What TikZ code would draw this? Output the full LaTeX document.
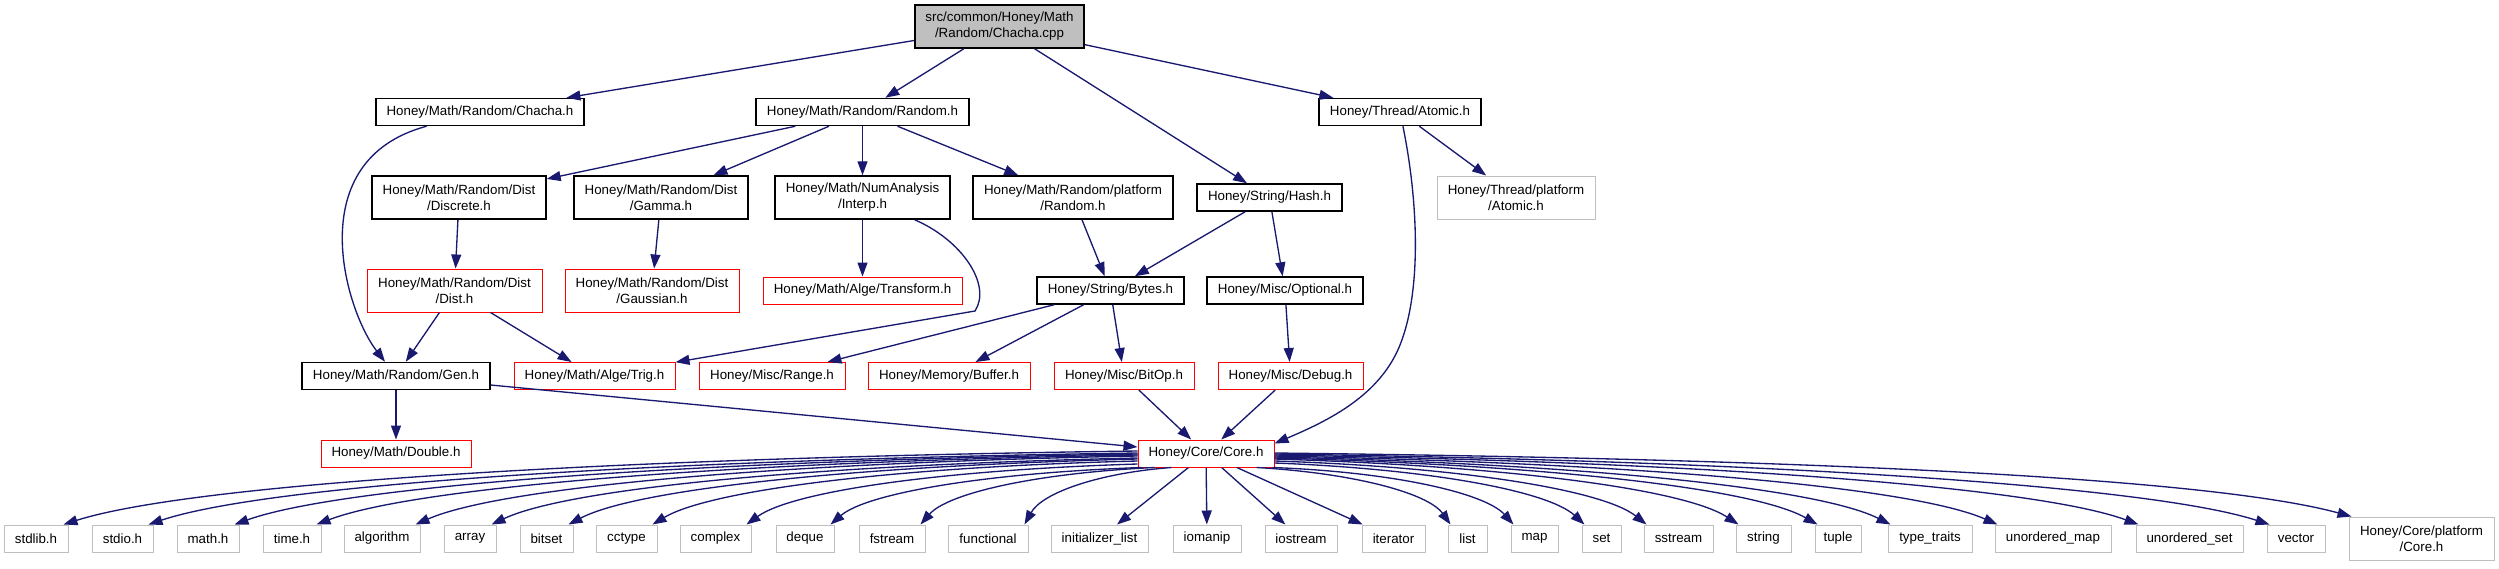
\documentclass[tikz,border=0pt]{standalone}
\usepackage{fontspec}
\setmainfont{Liberation Sans}
\usetikzlibrary{arrows.meta}
\definecolor{edgecol}{HTML}{191970}
\definecolor{redb}{HTML}{FF0000}
\definecolor{grayb}{HTML}{BFBFBF}
\definecolor{rootfill}{HTML}{BFBFBF}
\begin{document}
\begin{tikzpicture}[x=0.75pt,y=-0.75pt,
  box/.style={draw, line width=0.75pt, inner sep=0pt, align=center,
    font=\fontsize{10}{12}\selectfont, minimum height=27*0.75pt},
  tall/.style={minimum height=43*0.75pt},
  w/.style={minimum width=#1*0.75pt},
  blk/.style={box, draw=black, line width=1.1pt},
  redbox/.style={box, draw=redb},
  graybox/.style={box, draw=grayb},
  edge/.style={draw=edgecol, line width=1pt, -{Triangle[length=10.5pt,width=7.5pt]}}
]
\useasboundingbox (0,0) rectangle (2499,568);

% row 1
\node[blk,tall,w=169,fill=rootfill] (root) at (999.5,26.5) {src/common/Honey/Math\\/Random/Chacha.cpp};
% row 2
\node[blk,w=208] (chachaH) at (480,112) {Honey/Math/Random/Chacha.h};
\node[blk,w=213] (randomH) at (862.5,112) {Honey/Math/Random/Random.h};
\node[blk,w=162] (atomicH) at (1400,112) {Honey/Thread/Atomic.h};
% row 3
\node[blk,tall,w=174] (discrete) at (459,197.5) {Honey/Math/Random/Dist\\/Discrete.h};
\node[blk,tall,w=174] (gamma) at (661,197.5) {Honey/Math/Random/Dist\\/Gamma.h};
\node[blk,tall,w=175] (interp) at (862.5,197.5) {Honey/Math/NumAnalysis\\/Interp.h};
\node[blk,tall,w=200] (platRandom) at (1073,197.5) {Honey/Math/Random/platform\\/Random.h};
\node[blk,w=145] (hash) at (1269.5,197.5) {Honey/String/Hash.h};
\node[graybox,tall,w=158] (thrPlat) at (1516,197.5) {Honey/Thread/platform\\/Atomic.h};
% row 4
\node[redbox,tall,w=175] (dist) at (454.5,290.5) {Honey/Math/Random/Dist\\/Dist.h};
\node[redbox,tall,w=174] (gaussian) at (652,290.5) {Honey/Math/Random/Dist\\/Gaussian.h};
\node[redbox,w=199] (transform) at (862.5,290.5) {Honey/Math/Alge/Transform.h};
\node[blk,w=147] (bytes) at (1110.5,290.5) {Honey/String/Bytes.h};
\node[blk,w=156] (optional) at (1285,290.5) {Honey/Misc/Optional.h};
% row 5
\node[blk,w=188] (gen) at (396,376) {Honey/Math/Random/Gen.h};
\node[redbox,w=161] (trig) at (594.5,376) {Honey/Math/Alge/Trig.h};
\node[redbox,w=146] (range) at (772,376) {Honey/Misc/Range.h};
\node[redbox,w=162] (buffer) at (949,376) {Honey/Memory/Buffer.h};
\node[redbox,w=140] (bitop) at (1124,376) {Honey/Misc/BitOp.h};
\node[redbox,w=145] (debug) at (1290.5,376) {Honey/Misc/Debug.h};
% row 6
\node[redbox,w=150] (double) at (396,453.5) {Honey/Math/Double.h};
\node[redbox,w=136] (core) at (1206,453.5) {Honey/Core/Core.h};
% row 7
\node[graybox,w=64] (stdlib) at (36,538.5) {stdlib.h};
\node[graybox,w=61] (stdio) at (122.5,538.5) {stdio.h};
\node[graybox,w=62] (math) at (208,538.5) {math.h};
\node[graybox,w=58] (time) at (292,538.5) {time.h};
\node[graybox,w=76] (algorithm) at (382,538.5) {algorithm};
\node[graybox,w=52] (array) at (470,538.5) {array};
\node[graybox,w=53] (bitset) at (546.5,538.5) {bitset};
\node[graybox,w=61] (cctype) at (626.5,538.5) {cctype};
\node[graybox,w=71] (complex) at (715.5,538.5) {complex};
\node[graybox,w=58] (deque) at (805,538.5) {deque};
\node[graybox,w=66] (fstream) at (892,538.5) {fstream};
\node[graybox,w=80] (functional) at (988,538.5) {functional};
\node[graybox,w=97] (initlist) at (1099.5,538.5) {initializer\_list};
\node[graybox,w=68] (iomanip) at (1207,538.5) {iomanip};
\node[graybox,w=72] (iostream) at (1301,538.5) {iostream};
\node[graybox,w=63] (iterator) at (1393.5,538.5) {iterator};
\node[graybox,w=39] (list) at (1467.5,538.5) {list};
\node[graybox,w=47] (map) at (1534.5,538.5) {map};
\node[graybox,w=39] (set) at (1601.5,538.5) {set};
\node[graybox,w=69] (sstream) at (1678.5,538.5) {sstream};
\node[graybox,w=55] (string) at (1763.5,538.5) {string};
\node[graybox,w=46] (tuple) at (1838,538.5) {tuple};
\node[graybox,w=84] (typetraits) at (1930,538.5) {type\_traits};
\node[graybox,w=116] (umap) at (2053,538.5) {unordered\_map};
\node[graybox,w=107] (uset) at (2189.5,538.5) {unordered\_set};
\node[graybox,w=58] (vector) at (2296,538.5) {vector};
\node[graybox,tall,w=145] (corePlat) at (2421.5,538.5) {Honey/Core/platform\\/Core.h};

% edges upper part
\draw[edge] (root) -- (chachaH);
\draw[edge] (root) -- (randomH);
\draw[edge] (root) -- (hash);
\draw[edge] (root) -- (atomicH);
\draw[edge] (chachaH) .. controls (300,160) and (345,310) .. (gen);
\draw[edge] (randomH) -- (discrete);
\draw[edge] (randomH) -- (gamma);
\draw[edge] (randomH) -- (interp);
\draw[edge] (randomH) -- (platRandom);
\draw[edge] (atomicH) -- (thrPlat);
\draw[edge] (atomicH) .. controls (1418,200) and (1422,290) .. (1400,345)
   .. controls (1380,395) and (1330,420) .. ([shift={(0,4)}]core.north east);
\draw[edge] (discrete) -- (dist);
\draw[edge] (gamma) -- (gaussian);
\draw[edge] (interp) -- (transform);
\draw[edge] (interp) .. controls (962,240) and (992,285) .. (975,311) -- (trig);
\draw[edge] (platRandom) -- (bytes);
\draw[edge] (hash) -- (bytes);
\draw[edge] (hash) -- (optional);
\draw[edge] (dist) -- (gen);
\draw[edge] (dist) -- (trig);
\draw[edge] (bytes) -- (range);
\draw[edge] (bytes) -- (buffer);
\draw[edge] (bytes) -- (bitop);
\draw[edge] (optional) -- (debug);
\draw[edge] (gen) -- (double);
\draw[edge] (gen) -- (core);
\draw[edge] (bitop) -- (core);
\draw[edge] (debug) -- (core);

% core -> leaves (left)
\draw[edge] ([shift={(0,-2.5)}]core.west) .. controls (600,458) and (191,484) .. ([shift={(-5,0)}]stdlib.north east);
\draw[edge] ([shift={(0,-0.5)}]core.west) .. controls (643,460) and (267,485) .. ([shift={(-5,0)}]stdio.north east);
\draw[edge] ([shift={(0,0.5)}]core.west) .. controls (686,461) and (342,486) .. ([shift={(-5,0)}]math.north east);
\draw[edge] ([shift={(0,1.5)}]core.west) .. controls (727,462) and (415,487) .. ([shift={(-5,0)}]time.north east);
\draw[edge] ([shift={(0,2.5)}]core.west) .. controls (776,463) and (501,487) .. ([shift={(-5,0)}]algorithm.north east);
\draw[edge] ([shift={(0,4.5)}]core.west) .. controls (815,465) and (569,488) .. ([shift={(-5,0)}]array.north east);
\draw[edge] ([shift={(0,5.5)}]core.west) .. controls (853,466) and (636,489) .. ([shift={(-5,0)}]bitset.north east);
\draw[edge] ([shift={(0,7.5)}]core.west) .. controls (895,467) and (710,490) .. ([shift={(-5,0)}]cctype.north east);
\draw[edge] ([shift={(0,10.5)}]core.west) .. controls (942,470) and (793,491) .. ([shift={(-5,0)}]complex.north east);
\draw[edge] ([shift={(4,0)}]core.south west) .. controls (986,473) and (867,493) .. ([shift={(-4,0)}]deque.north east);
\draw[edge] ([shift={(17,0)}]core.south west) .. controls (1037,473) and (948,493) .. ([shift={(-5,0)}]fstream.north east);
\draw[edge] ([shift={(34,0)}]core.south west) .. controls (1098,473) and (1042,493) .. ([shift={(-4,0)}]functional.north east);
\draw[edge] (core) -- (initlist);
\draw[edge] (core) -- (iomanip);
% core -> leaves (right)
\draw[edge] (core) -- (iostream);
\draw[edge] (core) -- (iterator);
\draw[edge] ([shift={(-18,0)}]core.south east) .. controls (1353,473) and (1428,493) .. ([shift={(3,0)}]list.north west);
\draw[edge] ([shift={(-2,0)}]core.south east) .. controls (1393,472) and (1485,493) .. ([shift={(3,0)}]map.north west);
\draw[edge] ([shift={(0,9.5)}]core.east) .. controls (1430,469) and (1548,491) .. ([shift={(3,0)}]set.north west);
\draw[edge] ([shift={(0,7.5)}]core.east) .. controls (1461,467) and (1603,490) .. ([shift={(3,0)}]sstream.north west);
\draw[edge] ([shift={(0,5.5)}]core.east) .. controls (1507,466) and (1684,489) .. ([shift={(3,0)}]string.north west);
\draw[edge] ([shift={(0,4.5)}]core.east) .. controls (1546,465) and (1753,488) .. ([shift={(3,0)}]tuple.north west);
\draw[edge] ([shift={(0,3.5)}]core.east) .. controls (1583,464) and (1818,488) .. ([shift={(3,0)}]typetraits.north west);
\draw[edge] ([shift={(0,2.5)}]core.east) .. controls (1637,463) and (1912,487) .. ([shift={(3,0)}]umap.north west);
\draw[edge] ([shift={(0,1.5)}]core.east) .. controls (1707,462) and (2036,487) .. ([shift={(3,0)}]uset.north west);
\draw[edge] ([shift={(0,0.5)}]core.east) .. controls (1772,461) and (2150,486) .. ([shift={(3,0)}]vector.north west);
\draw[edge] ([shift={(0,-0.5)}]core.east) .. controls (1813,459) and (2210,478) .. ([shift={(3,0)}]corePlat.north west);
\end{tikzpicture}
\end{document}
